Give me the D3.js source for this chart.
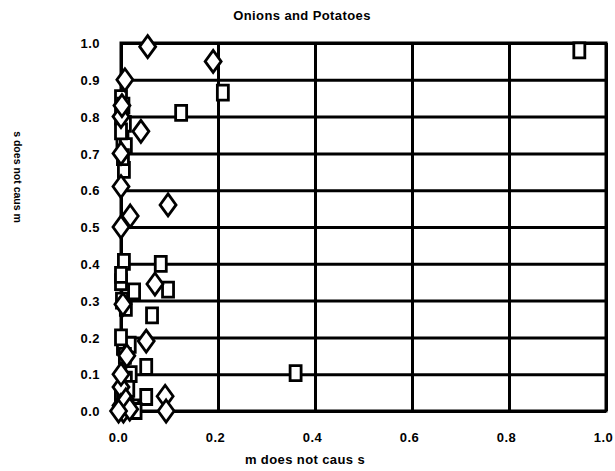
<!DOCTYPE html>
<html>
<head>
<meta charset="utf-8">
<script src="https://cdn.jsdelivr.net/npm/d3@7"></script>
<style>
  html, body { margin: 0; padding: 0; background: #fff; }
  svg text { font-family: "Liberation Sans", Arial, Helvetica, sans-serif; font-weight: bold; fill: #000; }
</style>
</head>
<body>
<svg id="chart" width="615" height="471"></svg>
<script>
// Axis ticks
const xTicks = [0, 0.2, 0.4, 0.6, 0.8, 1.0];
const yTicks = [0, 0.1, 0.2, 0.3, 0.4, 0.5, 0.6, 0.7, 0.8, 0.9, 1.0];

// Diamond series: x = "m does not caus s", y = "s does not caus m"
const diamondX = [0.055, 0.19, 0.008, 0.0, 0.041, 0.0, 0.0, 0.097, 0.019, 0.0, 0.07, 0.052, 0.012, 0.0, 0.091, 0.093, 0.0, 0.005,
                  0.002, 0.004, 0.0, 0.01, 0.018, -0.005];
const diamondY = [0.99, 0.95, 0.90, 0.80, 0.76, 0.70, 0.61, 0.56, 0.53, 0.50, 0.345, 0.19, 0.15, 0.065, 0.04, 0.0, 0.015, 0.0,
                  0.83, 0.29, 0.10, 0.03, 0.005, 0.0];

// Square series
const squareX = [0.945, 0.21, 0.124, 0.0, 0.005, 0.0, 0.008, 0.003, 0.01, 0.006, 0.006, 0.082, 0.097, 0.027, 0.0, 0.002, 0.064, 0.004, 0.018, 0.052, 0.02, 0.36, 0.052, 0.025, 0.0, 0.01,
                 0.0, 0.004, 0.0, 0.01, 0.0, 0.008, 0.0, 0.005, 0.015, 0.03];
const squareY = [0.98, 0.865, 0.81, 0.85, 0.83, 0.80, 0.78, 0.74, 0.72, 0.655, 0.405, 0.40, 0.33, 0.325, 0.35, 0.30, 0.26, 0.174, 0.18, 0.12, 0.10, 0.103, 0.038, 0.01, 0.03, 0.085,
                 0.76, 0.69, 0.37, 0.28, 0.20, 0.15, 0.05, 0.02, 0.06, 0.0];

const svg = d3.select("#chart");
svg.append("rect").attr("width", 615).attr("height", 471).attr("fill", "#fff");

const plotL = 121, plotR = 606, plotT = 43, plotB = 411;
const x = d3.scaleLinear().domain([0, 1]).range([plotL, plotR]);
const y = d3.scaleLinear().domain([0, 1]).range([plotB, plotT]);
const fmt = d3.format(".1f");

// Vertical grid + x tick labels
const gx = svg.append("g")
  .attr("transform", `translate(0,${plotB})`)
  .call(d3.axisBottom(x).tickValues(xTicks).tickFormat(fmt)
    .tickSize(-(plotB - plotT)).tickPadding(22));
gx.select(".domain").remove();
gx.selectAll(".tick line").attr("stroke", "#000").attr("stroke-width", 3);
gx.selectAll(".tick text").attr("dx", -3).style("font-size", "13px")
  .style("letter-spacing", "0.5px").attr("fill", "#000");

// Horizontal grid + y tick labels
const gy = svg.append("g")
  .attr("transform", `translate(${plotL},0)`)
  .call(d3.axisLeft(y).tickValues(yTicks).tickFormat(fmt)
    .tickSize(-(plotR - plotL)).tickPadding(21));
gy.select(".domain").remove();
gy.selectAll(".tick line").attr("stroke", "#000").attr("stroke-width", 3);
gy.selectAll(".tick text").attr("dy", "0.36em").style("font-size", "13px")
  .style("letter-spacing", "0.5px").attr("fill", "#000");

// Plot frame
svg.append("rect")
  .attr("x", plotL).attr("y", plotT)
  .attr("width", plotR - plotL).attr("height", plotB - plotT)
  .attr("fill", "none").attr("stroke", "#000").attr("stroke-width", 3);

// Marker shapes
const diamondPath = "M0,-11L8,0L0,11L-8,0Z";
const squarePath = "M-5.5,-7.5H5.5V7.5H-5.5Z";

const marks = svg.append("g");
marks.selectAll("path.sq")
  .data(d3.range(squareX.length))
  .join("path")
  .attr("class", "sq")
  .attr("d", squarePath)
  .attr("transform", i => `translate(${x(squareX[i])},${y(squareY[i])})`)
  .attr("fill", "#fff").attr("stroke", "#000").attr("stroke-width", 2.8);

marks.selectAll("path.dm")
  .data(d3.range(diamondX.length))
  .join("path")
  .attr("class", "dm")
  .attr("d", diamondPath)
  .attr("transform", i => `translate(${x(diamondX[i])},${y(diamondY[i])})`)
  .attr("fill", "#fff").attr("stroke", "#000").attr("stroke-width", 2.8);

// Titles
svg.append("text").attr("x", 302).attr("y", 20).attr("text-anchor", "middle")
  .style("font-size", "13px").style("letter-spacing", "0.4px").text("Onions and Potatoes");
svg.append("text").attr("x", 305).attr("y", 464).attr("text-anchor", "middle")
  .style("font-size", "13px").style("letter-spacing", "0.4px").text("m does not caus s");
svg.append("text").attr("transform", "translate(14,177) rotate(90)").attr("text-anchor", "middle")
  .style("font-size", "10.5px").text("s does not caus m");
</script>
</body>
</html>
